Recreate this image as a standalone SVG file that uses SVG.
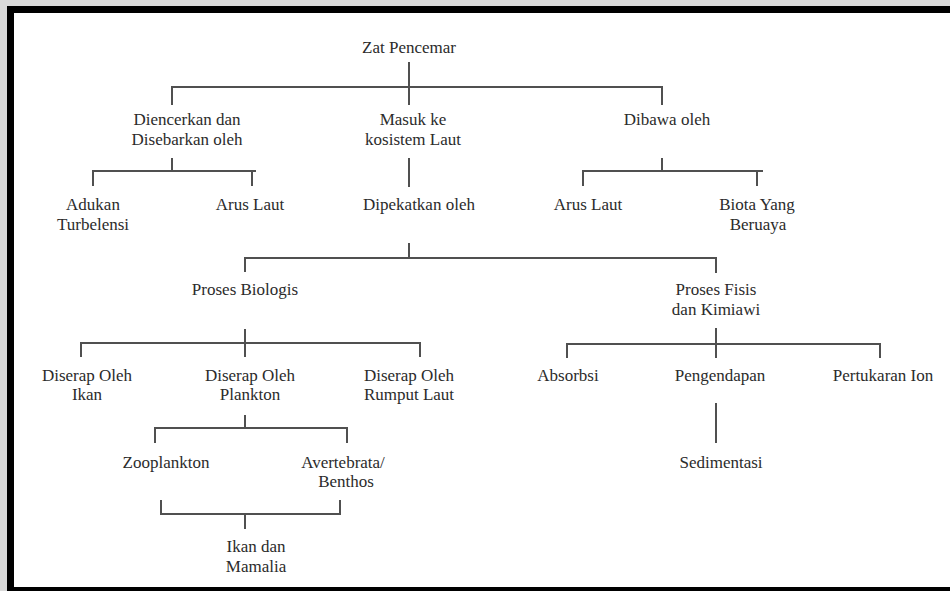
<svg xmlns="http://www.w3.org/2000/svg" width="950" height="591" viewBox="0 0 950 591">
<style>
.t{font-family:"Liberation Serif","Times New Roman",serif;font-size:17px;fill:#2b2b2b;text-anchor:middle}
.c{fill:none;stroke:#505050;stroke-width:2}
</style>
<rect x="0" y="0" width="950" height="591" fill="#d9d9d9"/>
<rect x="7" y="6" width="943" height="585" fill="#000"/>
<rect x="14" y="13" width="936" height="574" fill="#fff"/>
<g id="connectors" class="c">
<path d="M409,62 V105 M172,105 V87 H662 V105"/>
<path d="M172,158 V171 M93,186 V171 H256 M252,171 V186"/>
<path d="M409,158 V187"/>
<path d="M662,158 V171 M583,186 V171 H763 M757,171 V186"/>
<path d="M409,243 V258 M245,272 V258 H716 V273"/>
<path d="M245,329 V357 M81,357 V343 H420 V357"/>
<path d="M716,328 V358 M567,358 V344 H880 V358"/>
<path d="M245,415 V428 M155,443 V428 H347 V443"/>
<path d="M716,403 V443"/>
<path d="M161,500 V514 H340 V500 M245,514 V529"/>
</g>
<g id="n0"><text class="t" x="409" y="53">Zat Pencemar</text></g>
<g id="n1"><text class="t" x="187" y="125">Diencerkan dan</text><text class="t" x="187" y="145">Disebarkan oleh</text></g>
<g id="n2"><text class="t" x="413" y="125">Masuk ke</text><text class="t" x="413" y="145">kosistem Laut</text></g>
<g id="n3"><text class="t" x="667" y="125">Dibawa oleh</text></g>
<g id="n4"><text class="t" x="93" y="210">Adukan</text><text class="t" x="93" y="230">Turbelensi</text></g>
<g id="n5"><text class="t" x="250" y="210">Arus Laut</text></g>
<g id="n6"><text class="t" x="419" y="210">Dipekatkan oleh</text></g>
<g id="n7"><text class="t" x="588" y="210">Arus Laut</text></g>
<g id="n8"><text class="t" x="757" y="210">Biota Yang</text><text class="t" x="758" y="230">Beruaya</text></g>
<g id="n9"><text class="t" x="245" y="295">Proses Biologis</text></g>
<g id="n10"><text class="t" x="716" y="295">Proses Fisis</text><text class="t" x="716" y="315">dan Kimiawi</text></g>
<g id="n11"><text class="t" x="87" y="381">Diserap Oleh</text><text class="t" x="87" y="400">Ikan</text></g>
<g id="n12"><text class="t" x="250" y="381">Diserap Oleh</text><text class="t" x="250" y="400">Plankton</text></g>
<g id="n13"><text class="t" x="409" y="381">Diserap Oleh</text><text class="t" x="409" y="400">Rumput Laut</text></g>
<g id="n14"><text class="t" x="568" y="381">Absorbsi</text></g>
<g id="n15"><text class="t" x="720" y="381">Pengendapan</text></g>
<g id="n16"><text class="t" x="883" y="381">Pertukaran Ion</text></g>
<g id="n17"><text class="t" x="166" y="468">Zooplankton</text></g>
<g id="n18"><text class="t" x="343" y="468">Avertebrata/</text><text class="t" x="346" y="487">Benthos</text></g>
<g id="n19"><text class="t" x="721" y="468">Sedimentasi</text></g>
<g id="n20"><text class="t" x="256" y="552">Ikan dan</text><text class="t" x="256" y="572">Mamalia</text></g>
</svg>
